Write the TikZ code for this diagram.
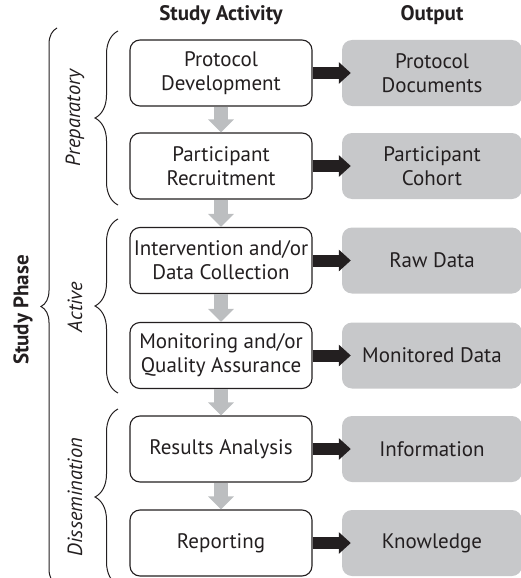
\documentclass[tikz,border=0pt]{standalone}
\usepackage{fontspec}
\setmainfont{PT Sans}
\usetikzlibrary{decorations.pathreplacing,arrows.meta}
\definecolor{txt}{HTML}{231F20}
\definecolor{outgray}{HTML}{C7C8CA}
\definecolor{arrgray}{HTML}{BCBEC0}
\begin{document}
\begin{tikzpicture}[x=1pt,y=-1pt,
  base/.style={rounded corners=10pt, minimum height=66pt, align=center,
    inner sep=0pt, text=txt, font=\fontsize{21}{24}\selectfont},
  act/.style={base, draw=txt, line width=1.1pt, fill=white, minimum width=182pt},
  outbox/.style={base, fill=outgray, minimum width=180pt},
  head/.style={text=txt, font=\fontsize{21}{24}\selectfont\bfseries},
  phase/.style={text=txt, rotate=90, font=\fontsize{20.5}{24}\selectfont\itshape},
  flow/.style={draw=arrgray, line width=14pt, -{Triangle[length=13pt,width=25pt]}, arrgray},
  res/.style={draw=txt, line width=12pt, -{Triangle[length=12pt,width=21pt]}, txt, shorten >=-9pt},
  brc/.style={draw=txt, line width=1pt, decorate, decoration={brace, amplitude=#1}}
]
\useasboundingbox (0,0) rectangle (521,578);
\clip (0,0) rectangle (521,578);

\node[head] (h1) at (221,15) {Study Activity};
\node[head] (h2) at (432,15) {Output};

\node[act] (a1) at (221,73) {Protocol\\Development};
\node[act] (a2) at (221,166) {Participant\\Recruitment};
\node[act] (a3) at (221,260.5) {Intervention and/or\\Data Collection};
\node[act] (a4) at (221,355.5) {Monitoring and/or\\Quality Assurance};
\node[act] (a5) at (221,449) {Results Analysis};
\node[act] (a6) at (221,543) {Reporting};

\node[outbox] (o1) at (432,73) {Protocol\\Documents};
\node[outbox] (o2) at (432,166) {Participant\\Cohort};
\node[outbox] (o3) at (432,260.5) {Raw Data};
\node[outbox] (o4) at (432,355.5) {Monitored Data};
\node[outbox] (o5) at (432,449) {Information};
\node[outbox] (o6) at (432,543) {Knowledge};

\foreach \i/\j in {1/2,2/3,3/4,4/5,5/6} \draw[flow] (a\i) -- (a\j);
\foreach \i in {1,...,6} \draw[res] (a\i) -- (o\i);

\draw[brc=16pt] (57,585) -- (57,28);
\draw[brc=23pt] (118,205) -- (118,31);
\draw[brc=23pt] (118,393) -- (118,219);
\draw[brc=23pt] (118,585) -- (118,409);

\node[text=txt, rotate=90, font=\fontsize{21}{24}\selectfont\bfseries] (sp) at (23,310) {Study Phase};
\node[phase] (p1) at (75,118) {Preparatory};
\node[phase] (p2) at (75,307) {Active};
\node[phase] (p3) at (75,497) {Dissemination};
\end{tikzpicture}
\end{document}
